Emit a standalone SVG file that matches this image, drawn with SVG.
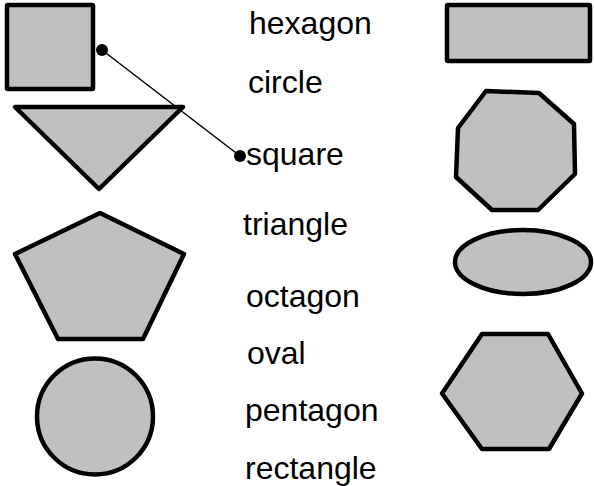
<svg xmlns="http://www.w3.org/2000/svg" width="594" height="486" viewBox="0 0 594 486">
<style>
.shape{fill:#c0c0c0;stroke:#000;stroke-width:4.5;stroke-linejoin:round}
.lbl{font-family:"Liberation Sans",Arial,sans-serif;font-size:32px;fill:#000}
.conn{stroke:#000;stroke-width:1.5;fill:none}
.dot{fill:#000}
</style>
<rect width="594" height="486" fill="#fff"/>
<g id="square-shape"><rect class="shape" x="7" y="5" width="86" height="84" rx="1"/></g>
<g id="triangle-shape"><polygon class="shape" points="15,107 183,107 99,189"/></g>
<g id="pentagon-shape"><polygon class="shape" points="100,213 184,254 143,339 58,339 15,254"/></g>
<g id="circle-shape"><circle class="shape" cx="95" cy="416.5" r="58"/></g>
<g id="rectangle-shape"><rect class="shape" x="447" y="5" width="143" height="56" rx="1"/></g>
<g id="octagon-shape"><polygon class="shape" points="486,91 539,93 574,124 575,174 538,210 492,210 456,177 458,128"/></g>
<g id="oval-shape"><ellipse class="shape" cx="523" cy="262" rx="68" ry="32"/></g>
<g id="hexagon-shape"><polygon class="shape" points="482,334 548,334 582,393.5 549,449 482,449 442,393.5"/></g>
<g id="labels">
<text class="lbl" x="249" y="34">hexagon</text>
<text class="lbl" x="248" y="93">circle</text>
<text class="lbl" x="246" y="165">square</text>
<text class="lbl" x="243" y="235">triangle</text>
<text class="lbl" x="246" y="307">octagon</text>
<text class="lbl" x="247" y="364">oval</text>
<text class="lbl" x="245" y="421">pentagon</text>
<text class="lbl" x="245" y="479">rectangle</text>
</g>
<g id="connectors">
<line class="conn" x1="102" y1="50" x2="240" y2="156"/>
<circle class="dot" cx="102" cy="50" r="6"/>
<circle class="dot" cx="240" cy="156" r="6"/>
</g>
</svg>
